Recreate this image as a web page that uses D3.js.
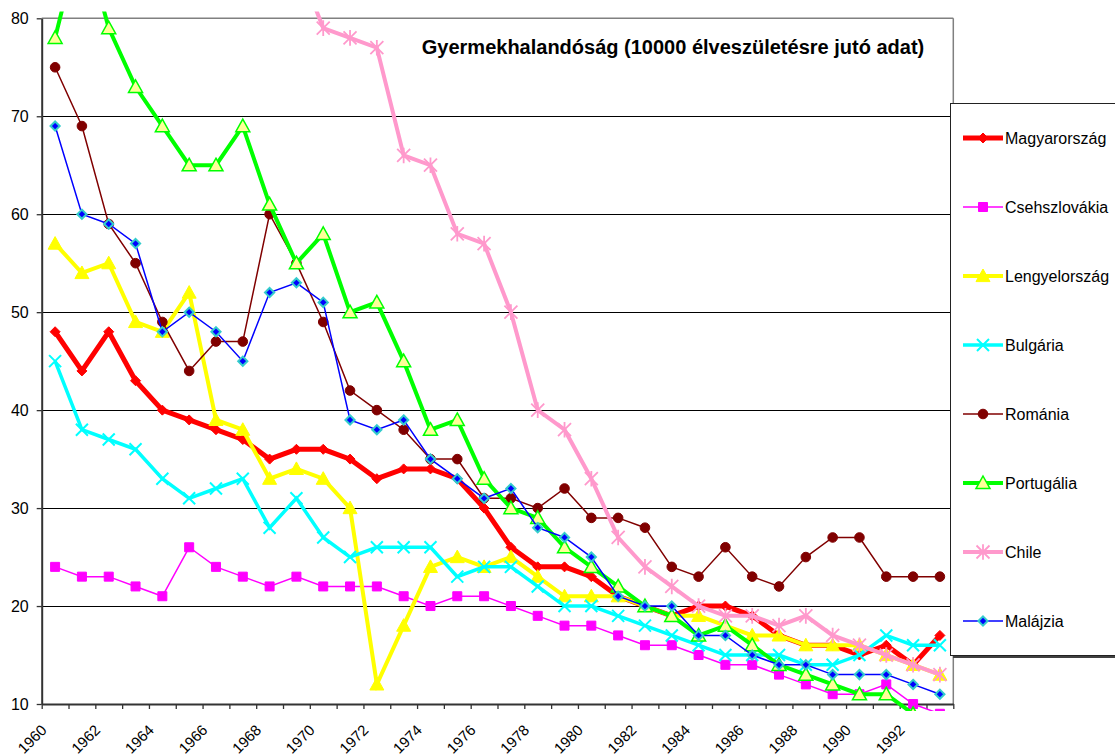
<!DOCTYPE html>
<html>
<head>
<meta charset="utf-8">
<script src="https://cdn.jsdelivr.net/npm/d3@7"></script>
<style>
  html, body { margin: 0; padding: 0; background: #fff; }
  svg { display: block; font-family: Arial, "Liberation Sans", sans-serif; }
</style>
</head>
<body>
<svg id="chart" width="1115" height="756"></svg>
<script>
// ---- data ----
const years = [1960,1961,1962,1963,1964,1965,1966,1967,1968,1969,
               1970,1971,1972,1973,1974,1975,1976,1977,1978,1979,
               1980,1981,1982,1983,1984,1985,1986,1987,1988,1989,
               1990,1991,1992,1993];
const xLabelYears = [1960,1962,1964,1966,1968,1970,1972,1974,1976,1978,1980,1982,1984,1986,1988,1990,1992];
const yTicks = [10,20,30,40,50,60,70,80];
const titleText = "Gyermekhalandóság (10000 élveszületésre jutó adat)";
const seriesNames = ["Magyarország","Csehszlovákia","Lengyelország","Bulgária","Románia","Portugália","Chile","Malájzia"];

const magyarorszag  = [48,44,48,43,40,39,38,37,35,36, 36,35,33,34,34,33,30,26,24,24, 23,21,20,19,20,20,19,17,16,16, 15,16,14,17];
const csehszlovakia = [24,23,23,22,21,26,24,23,22,23, 22,22,22,21,20,21,21,20,19,18, 18,17,16,16,15,14,14,13,12,11, 11,12,10,9];
const lengyelorszag = [57,54,55,49,48,52,39,38,33,34, 33,30,12,18,24,25,24,25,23,21, 21,21,20,19,19,18,17,17,16,16, 16,15,14,13];
const bulgaria      = [45,38,37,36,33,31,32,33,28,31, 27,25,26,26,26,23,24,24,22,20, 20,19,18,17,16,15,15,15,14,14, 15,17,16,16];
const romania       = [75,69,59,55,49,44,47,47,60,55, 49,42,40,38,35,35,31,31,30,32, 29,29,28,24,23,26,23,22,25,27, 27,23,23,23];
const portugalia    = [78,89,79,73,69,65,65,69,61,55, 58,50,51,45,38,39,33,30,29,26, 24,22,20,19,17,18,16,14,13,12, 11,11,9,8];
const chile         = [null,null,null,null,null,null,null,null,null,86, 79,78,77,66,65,58,57,50,40,38, 33,27,24,22,20,19,19,18,19,17, 16,15,14,13];
const malajzia      = [69,60,59,57,48,50,48,45,52,53, 51,39,38,39,35,33,31,32,28,27, 25,21,20,20,17,17,15,14,14,13, 13,13,12,11];

const seriesValues = [magyarorszag, csehszlovakia, lengyelorszag, bulgaria, romania, portugalia, chile, malajzia];

// ---- styles ----
const styles = [
  {line:"#FF0000", w:5,   marker:"diamond",  r:5,   fill:"#FF0000", stroke:"#FF0000", sw:1},
  {line:"#FF00FF", w:1.5, marker:"square",   r:4.5, fill:"#FF00FF", stroke:"#FF00FF", sw:1},
  {line:"#FFFF00", w:4,   marker:"triangle", r:7,   fill:"#FFFF00", stroke:"#FFFF00", sw:1},
  {line:"#00FFFF", w:3.5, marker:"x",        r:6,   fill:"none",    stroke:"#00FFFF", sw:2},
  {line:"#800000", w:1.5, marker:"circle",   r:4.8, fill:"#800000", stroke:"#800000", sw:1},
  {line:"#00FF00", w:4,   marker:"triangle", r:7,   fill:"#FFFF99", stroke:"#00FF00", sw:1.5},
  {line:"#FF99CC", w:4,   marker:"star",     r:6.5, fill:"none",    stroke:"#FF99CC", sw:1.8},
  {line:"#0000FF", w:1.5, marker:"diamond",  r:4.6, fill:"#0000FF", stroke:"#33CCCC", sw:2}
];

function markerPath(type, r) {
  switch (type) {
    case "diamond":  return `M0,${-r}L${r},0L0,${r}L${-r},0Z`;
    case "square":   return `M${-r},${-r}H${r}V${r}H${-r}Z`;
    case "triangle": return `M0,${-r}L${r},${r*0.8}L${-r},${r*0.8}Z`;
    case "circle":   return d3.symbol(d3.symbolCircle, Math.PI*r*r)();
    case "x":        return `M${-r},${-r}L${r},${r}M${-r},${r}L${r},${-r}`;
    case "star":     return `M${-r},${-r}L${r},${r}M${-r},${r}L${r},${-r}M0,${-r*1.2}L0,${r*1.2}`;
  }
}

// ---- layout ----
const svg = d3.select("#chart");
const pLeft = 41.7, pRight = 953.3, pTop = 18.3, pBottom = 704;

const x = d3.scaleLinear().domain([years[0]-0.5, years[years.length-1]+0.5]).range([pLeft, pRight]);
const y = d3.scaleLinear().domain([10, 80]).range([pBottom, pTop]);

// gridlines
svg.append("g").selectAll("line").data(yTicks.filter(v => v > 10 && v < 80)).join("line")
  .attr("x1", pLeft).attr("x2", pRight)
  .attr("y1", d => Math.round(y(d)) + 0.5).attr("y2", d => Math.round(y(d)) + 0.5)
  .attr("stroke", "#000").attr("stroke-width", 1);

// plot border top / right
svg.append("line").attr("x1", pLeft).attr("x2", pRight).attr("y1", pTop).attr("y2", pTop)
  .attr("stroke", "#808080").attr("stroke-width", 1.5);
svg.append("line").attr("x1", pRight).attr("x2", pRight).attr("y1", pTop).attr("y2", pBottom)
  .attr("stroke", "#808080").attr("stroke-width", 1.5);

// y axis
const yAxis = svg.append("g").attr("transform", `translate(${pLeft},0)`)
  .call(d3.axisLeft(y).tickValues(yTicks).tickSize(5).tickPadding(8).tickSizeOuter(0));
yAxis.select(".domain").attr("stroke", "#333").attr("stroke-width", 2);
yAxis.selectAll(".tick line").attr("stroke", "#333").attr("stroke-width", 1.3);
yAxis.selectAll("text").attr("font-size", 16).attr("fill", "#000")
  .attr("font-family", "Arial, 'Liberation Sans', sans-serif");

// x axis ticks at category boundaries
const boundaries = years.map(v => v - 0.5).concat([years[years.length-1] + 0.5]);
const xAxis = svg.append("g").attr("transform", `translate(0,${pBottom})`)
  .call(d3.axisBottom(x).tickValues(boundaries).tickSize(5).tickSizeOuter(0).tickFormat(""));
xAxis.select(".domain").attr("stroke", "#333").attr("stroke-width", 2);
xAxis.selectAll(".tick line").attr("stroke", "#333").attr("stroke-width", 1.3);

// x labels
const xLab = svg.append("g").attr("transform", `translate(0,${pBottom})`)
  .call(d3.axisBottom(x).tickValues(xLabelYears).tickSize(0).tickFormat(d3.format("d")));
xLab.select(".domain").remove();
xLab.selectAll("text")
  .attr("font-size", 15).attr("fill", "#000")
  .attr("font-family", "Arial, 'Liberation Sans', sans-serif")
  .attr("text-anchor", "end")
  .attr("x", 0).attr("y", 0).attr("dy", 0)
  .attr("transform", "translate(-8,27) rotate(-45)");

// clip
svg.append("defs").append("clipPath").attr("id", "clip")
  .append("rect").attr("x", 0).attr("y", 11.5).attr("width", 960).attr("height", 711 - 11.5);

const plot = svg.append("g").attr("clip-path", "url(#clip)");
const lineGen = d3.line().defined(d => d.v != null).x(d => x(d.year)).y(d => y(d.v));

seriesValues.forEach((vals, i) => {
  const st = styles[i];
  const pts = years.map((yr, k) => ({year: yr, v: vals[k]}));
  const g = plot.append("g");
  g.append("path").datum(pts).attr("d", lineGen)
    .attr("fill", "none").attr("stroke", st.line).attr("stroke-width", st.w)
    .attr("stroke-linejoin", "miter");
  g.selectAll("path.m").data(pts.filter(d => d.v != null)).join("path").attr("class", "m")
    .attr("d", markerPath(st.marker, st.r))
    .attr("transform", d => `translate(${x(d.year)},${y(d.v)})`)
    .attr("fill", st.fill).attr("stroke", st.stroke).attr("stroke-width", st.sw);
});

// title
svg.append("text").attr("x", 673).attr("y", 54).attr("text-anchor", "middle")
  .attr("font-size", 20).attr("font-weight", "bold").attr("fill", "#000")
  .text(titleText);

// legend
const lg = svg.append("g");
lg.append("rect").attr("x", 953).attr("y", 106).attr("width", 200).attr("height", 552).attr("fill", "#404040");
lg.append("rect").attr("x", 950.5).attr("y", 103.5).attr("width", 200).attr("height", 552)
  .attr("fill", "#fff").attr("stroke", "#222").attr("stroke-width", 1);
seriesNames.forEach((name, i) => {
  const st = styles[i];
  const cy = 138 + i * 69;
  lg.append("line").attr("x1", 963).attr("x2", 1003).attr("y1", cy).attr("y2", cy)
    .attr("stroke", st.line).attr("stroke-width", st.w);
  lg.append("path").attr("d", markerPath(st.marker, st.r)).attr("transform", `translate(983,${cy})`)
    .attr("fill", st.fill).attr("stroke", st.stroke).attr("stroke-width", st.sw);
  lg.append("text").attr("x", 1005).attr("y", cy).attr("dy", "0.36em")
    .attr("font-size", 16).attr("fill", "#000").text(name);
});
</script>
</body>
</html>
